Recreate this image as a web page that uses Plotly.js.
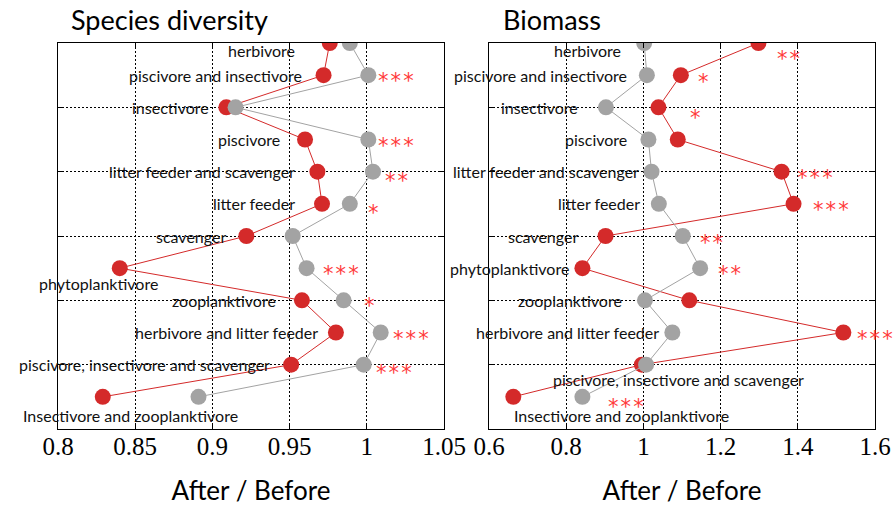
<!DOCTYPE html>
<html><head><meta charset="utf-8">
<script src="https://cdn.plot.ly/plotly-3.0.1.min.js"></script>
<style>html,body{margin:0;padding:0;background:#fff}#chart{width:894px;height:509px}</style>
</head><body><div id="chart"></div>
<script>
// ---- data ----
const categories = ["herbivore","piscivore and insectivore","insectivore","piscivore",
  "litter feeder and scavenger","litter feeder","scavenger","phytoplanktivore",
  "zooplanktivore","herbivore and litter feeder","piscivore, insectivore and scavenger",
  "Insectivore and zooplanktivore"];
const diversityRed  = [0.976,0.972,0.909,0.960,0.968,0.971,0.922,0.840,0.958,0.980,0.951,0.829];
const diversityGray = [0.989,1.001,0.915,1.001,1.004,0.989,0.952,0.961,0.985,1.009,0.998,0.891];
const biomassRed    = [1.298,1.097,1.039,1.089,1.358,1.389,0.902,0.842,1.119,1.518,0.996,0.663];
const biomassGray   = [1.002,1.009,0.903,1.013,1.021,1.040,1.102,1.147,1.004,1.075,1.007,0.842];
const diversitySig  = ["","***","","***","**","*","","***","*","***","***",""];
const biomassSig    = ["**","*","*","","***","***","**","**","","***","","***"];
const xTitle = "After / Before";
const panelTitles = ["Species diversity","Biomass"];

// ---- label placement (pixel offsets, style only) ----
const divLabelPos = [[-33,-8,'right'],[-20,0,'right'],[-15,0,'right'],[-23,0,'right'],[-20,0,'right'],[-25,0,'right'],
  [-18,0,'right'],[-21,-15,'center'],[-24,0,'right'],[-16,0,'right'],[-19,0,'right'],[28,-19,'center']];
const bioLabelPos = [[-21,-8,'right'],[-18,0,'right'],[-26,0,'right'],[-19,0,'right'],[-11,0,'right'],[-17,0,'right'],
  [-26,0,'right'],[-11,0,'right'],[-21,0,'right'],[-11,0,'right'],[37,-15,'center'],[108,-19,'center']];
const divStarPos = [[0,0],[10,0],[0,0],[10,0],[12,-3],[18,-3],[0,0],[16,0],[20,0],[12,0],[12,-2],[0,0]];
const bioStarPos = [[19,-10],[17,-1],[32,-5],[0,0],[15,0],[19,0],[17,-1],[18,0],[0,0],[14,0],[0,0],[26,-4]];

const RED = '#d42a2a', GRAY = '#a3a3a3', STAR = '#ff3b3b';
const idx = categories.map((c,i)=>i);
const sans = 'Lato, "Open Sans", sans-serif';

function series(xv, color, xa, ya, name){
  return {x:xv, y:idx, type:'scatter', mode:'lines+markers', name:name, xaxis:xa, yaxis:ya,
    line:{color:color,width:1}, marker:{color:color,size:16}, hoverinfo:'x+text', text:categories};
}
const traces = [
  series(diversityRed, RED, 'x','y','diversity red'),
  series(diversityGray, GRAY, 'x','y','diversity gray'),
  series(biomassRed, RED, 'x2','y2','biomass red'),
  series(biomassGray, GRAY, 'x2','y2','biomass gray')
];

const ann = [];
function addPanel(red, gray, sig, labPos, starPos, xr, yr){
  categories.forEach((c,i)=>{
    const lo = Math.min(red[i],gray[i]), hi = Math.max(red[i],gray[i]);
    const p = labPos[i];
    ann.push({x:lo, y:i, xref:xr, yref:yr, text:c, showarrow:false, xanchor:p[2], yanchor:'middle',
      xshift:p[0], yshift:p[1], font:{family:sans, size:16, color:'#111'}});
    if(sig[i]){
      const s = starPos[i];
      ann.push({x:hi, y:i, xref:xr, yref:yr, text:sig[i].split('').join('\u200A'), showarrow:false,
        xanchor:'left', yanchor:'middle', xshift:s[0]-2, yshift:s[1]-6,
        font:{family:'"DejaVu Sans", sans-serif', size:21, color:STAR}});
    }
  });
}
addPanel(diversityRed, diversityGray, diversitySig, divLabelPos, divStarPos, 'x','y');
addPanel(biomassRed, biomassGray, biomassSig, bioLabelPos, bioStarPos, 'x2','y2');
ann.push({x:69/894, y:1-20/509, xref:'paper', yref:'paper', text:panelTitles[0], showarrow:false,
  xanchor:'left', yanchor:'middle', font:{family:sans, size:27, color:'#000'}});
ann.push({x:501/894, y:1-20/509, xref:'paper', yref:'paper', text:panelTitles[1], showarrow:false,
  xanchor:'left', yanchor:'middle', font:{family:sans, size:27, color:'#000'}});

const xCommon = {showgrid:true, gridcolor:'#000', griddash:'2px,2px', gridwidth:1, zeroline:false,
  showline:true, linecolor:'#000', linewidth:1, mirror:'allticks', ticks:'inside', ticklen:5, tickcolor:'#000',
  tickfont:{family:'"Liberation Serif", "Times New Roman", serif', size:25, color:'#000'},
  ticklabelstandoff:-5,
  title:{text:xTitle, font:{family:sans, size:26, color:'#000'}, standoff:22}};
const yCommon = {range:[12,0], dtick:2, tick0:0, showticklabels:false, showgrid:true, gridcolor:'#000',
  griddash:'2px,2px', gridwidth:1, zeroline:false, showline:true, linecolor:'#000', linewidth:1,
  mirror:'allticks', ticks:'inside', ticklen:5, tickcolor:'#000', domain:[80/509, 466/509]};

const layout = {
  width:894, height:509, margin:{l:0,r:0,t:0,b:0}, showlegend:false,
  paper_bgcolor:'#fff', plot_bgcolor:'#fff',
  xaxis:Object.assign({}, xCommon, {domain:[58/894, 444/894], range:[0.8,1.05], dtick:0.05, tick0:0.8, anchor:'y'}),
  xaxis2:Object.assign({}, xCommon, {domain:[489/894, 875/894], range:[0.6,1.6], dtick:0.2, tick0:0.6, anchor:'y2'}),
  yaxis:Object.assign({}, yCommon, {anchor:'x'}),
  yaxis2:Object.assign({}, yCommon, {anchor:'x2'}),
  annotations:ann
};
Plotly.newPlot('chart', traces, layout, {staticPlot:true});
</script></body></html>
